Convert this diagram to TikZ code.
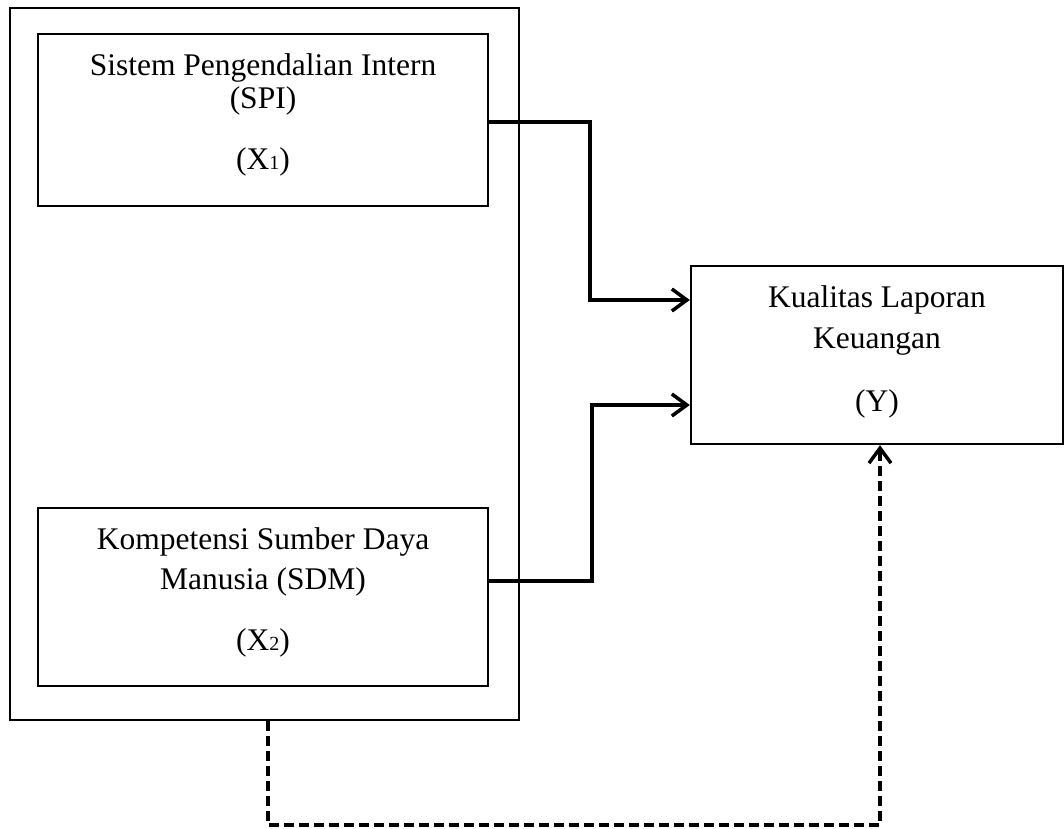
\documentclass[tikz,border=0pt]{standalone}
\usepackage{fontspec}
\setmainfont{Liberation Serif}
\usetikzlibrary{arrows.meta}
\begin{document}
\begin{tikzpicture}[x=1pt,y=-1pt,
  box/.style={draw=black,line width=2.4pt,rectangle,inner sep=0pt},
  txt/.style={anchor=base,inner sep=0pt,font=\fontsize{31.5}{36}\selectfont},
  link/.style={line width=3.5pt,-{Straight Barb[length=15pt,width=22pt,line width=3.5pt]}},
  dlink/.style={link,dash pattern=on 10pt off 5pt}]
\useasboundingbox (0,0) rectangle (1064,828);
\fill[white] (0,0) rectangle (1064,828);
% outer frame
\node[box,minimum width=509pt,minimum height=712pt] (outer) at (264.5,364) {};
% X1
\node[box,minimum width=450pt,minimum height=172pt] (x1) at (263,120) {};
\node[txt] (x1a) at (263,75) {Sistem Pengendalian Intern};
\node[txt] (x1b) at (263,108) {(SPI)};
\node[txt] (x1c) at (263,169) {(X{\fontsize{20}{20}\selectfont 1})};
% X2
\node[box,minimum width=450pt,minimum height=178pt] (x2) at (263,597) {};
\node[txt] (x2a) at (263,549) {Kompetensi Sumber Daya};
\node[txt] (x2b) at (263,589) {Manusia (SDM)};
\node[txt] (x2c) at (263,650) {(X{\fontsize{20}{20}\selectfont 2})};
% Y
\node[box,minimum width=372pt,minimum height=178pt] (y) at (877,355) {};
\node[txt] (ya) at (877,307) {Kualitas Laporan};
\node[txt] (yb) at (877,348) {Keuangan};
\node[txt] (yc) at (877,411) {(Y)};
% connectors
\coordinate (y1) at (y.west |- 0,300);
\coordinate (y2) at (y.west |- 0,405);
\coordinate (ob) at (268,0);
\coordinate (yb0) at (880,0);
\draw[link] (x1.east |- 0,122) -| (590,300) -- (y1);
\draw[link] (x2.east |- 0,581) -| (592,405) -- (y2);
\draw[dlink] (outer.south -| ob) -- (268,825) -| (y.south -| yb0);
\end{tikzpicture}
\end{document}
